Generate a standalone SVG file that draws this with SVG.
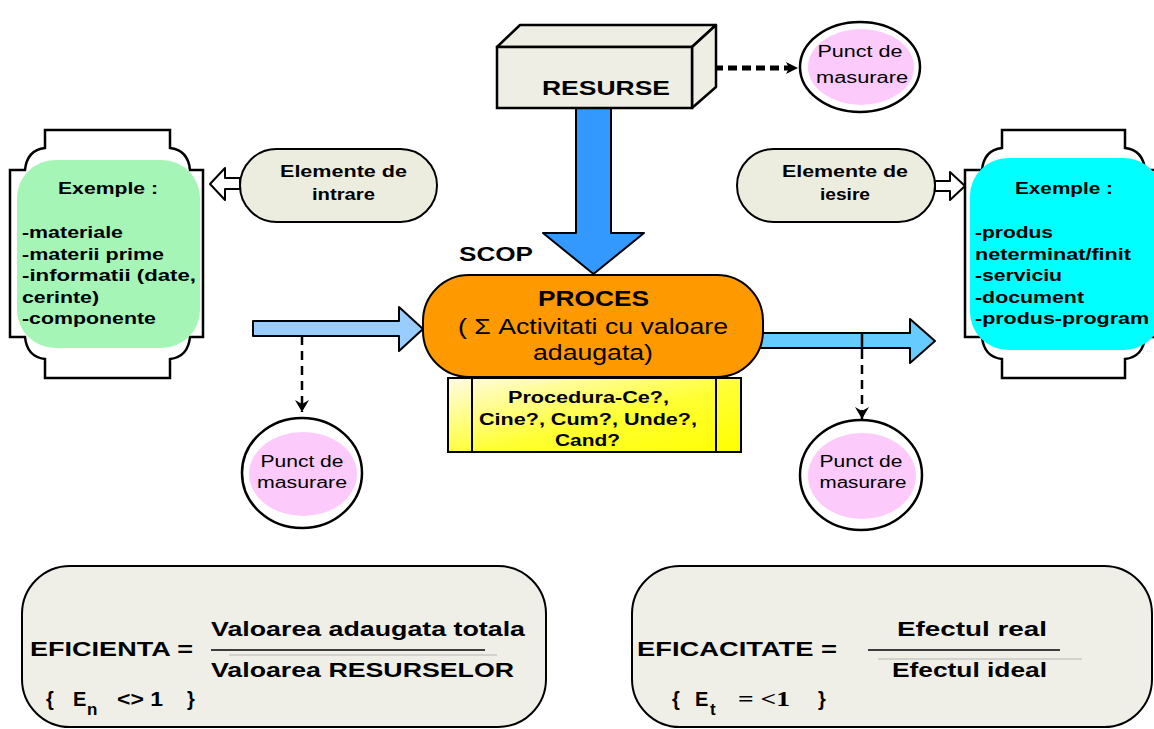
<svg xmlns="http://www.w3.org/2000/svg" width="1154" height="729" viewBox="0 0 1154 729">
  <style>
    .b { font-family: "Liberation Sans", Arial, sans-serif; font-weight: bold; fill: #000; }
    .r { font-family: "Liberation Sans", Arial, sans-serif; font-weight: normal; fill: #000; }
    .s { font-family: "Liberation Serif", "Times New Roman", serif; font-weight: bold; fill: #000; }
    .ol { stroke: #000; stroke-width: 2; stroke-linejoin: round; }
    .frame { fill: #fff; stroke: #000; stroke-width: 2.5; }
    .pill { fill: #ededdf; stroke: #000; stroke-width: 2; }
    .ring { fill: #fff; stroke: #000; stroke-width: 2.5; }
    .pink { fill: #fccbfc; }
    .dash { fill: none; stroke: #000; stroke-width: 2.5; stroke-dasharray: 9 6; }
    .dots { fill: none; stroke: #000; stroke-width: 5; stroke-dasharray: 9 5; }
    .card { fill: #efefe7; stroke: #000; stroke-width: 2; }
  </style>
  <defs>
    <marker id="barb" viewBox="0 0 12 14" refX="12" refY="7" markerWidth="12" markerHeight="14" markerUnits="userSpaceOnUse" orient="auto">
      <path d="M0,0 L12,7 L0,14 L4,7 Z" fill="#000"/>
    </marker>
    <linearGradient id="yel" x1="0" y1="0" x2="1" y2="1">
      <stop offset="0" stop-color="#fffbe6"/>
      <stop offset="0.55" stop-color="#ffff33"/>
      <stop offset="1" stop-color="#ffff00"/>
    </linearGradient>
  </defs>
  <rect width="1154" height="729" fill="#fff"/>

  <!-- connectors -->
  <g id="connectors">
    <polygon class="ol" fill="#3399ff" points="576,108 611,108 611,233 644,233 593.5,274 543,233 576,233"/>
    <polygon class="ol" fill="#99ccff" points="253,321 399,321 399,307 423,329 399,351 399,336 253,336"/>
    <polygon class="ol" fill="#66ccff" points="740,333 910,333 910,319 935,341 910,363 910,348 740,348"/>
    <line x1="862" y1="333" x2="862" y2="350" stroke="#000" stroke-width="2.5"/>
    <path class="dash" d="M302,336 V412" marker-end="url(#barb)"/>
    <path class="dash" d="M862,350 V419" marker-end="url(#barb)"/>
    <path class="dots" d="M700,68 H790" />
    <path d="M786,62 L798,68 L786,74 L789,68 Z" fill="#000"/>
    <polygon fill="#fff" class="ol" points="240,178 225,178 225,168 210,184 225,200 225,189 240,189"/>
    <polygon fill="#fff" class="ol" points="935,181 950,181 950,172 965,186 950,200 950,191 935,191"/>
  </g>

  <!-- resources block -->
  <g id="resurse">
    <polygon fill="#eeeee4" stroke="#000" stroke-width="2.5" stroke-linejoin="round" points="497,47 520,25 716,25 692,47"/>
    <polygon fill="#eeeee4" stroke="#000" stroke-width="2.5" stroke-linejoin="round" points="692,47 716,25 716,87 692,108"/>
    <rect x="497" y="47" width="195" height="61" fill="#eeeee4" stroke="#000" stroke-width="2.5"/>
    <text class="b" x="542" y="95" font-size="21" textLength="128" lengthAdjust="spacingAndGlyphs">RESURSE</text>
  </g>

  <!-- measuring points -->
  <g id="punct-top">
    <ellipse class="ring" cx="860" cy="67" rx="60" ry="45"/>
    <ellipse class="pink" cx="861" cy="67" rx="53" ry="38"/>
    <text class="r" x="860" y="57" font-size="16" text-anchor="middle" textLength="85" lengthAdjust="spacingAndGlyphs">Punct de</text>
    <text class="r" x="862" y="83" font-size="16" text-anchor="middle" textLength="92" lengthAdjust="spacingAndGlyphs">masurare</text>
  </g>
  <g id="punct-in">
    <ellipse class="ring" cx="302" cy="473" rx="60" ry="55"/>
    <ellipse class="pink" cx="303" cy="474" rx="54" ry="42"/>
    <text class="r" x="302" y="467" font-size="16" text-anchor="middle" textLength="83" lengthAdjust="spacingAndGlyphs">Punct de</text>
    <text class="r" x="302" y="488" font-size="16" text-anchor="middle" textLength="90" lengthAdjust="spacingAndGlyphs">masurare</text>
  </g>
  <g id="punct-out">
    <ellipse class="ring" cx="861" cy="475" rx="61" ry="55"/>
    <ellipse class="pink" cx="862" cy="476" rx="54" ry="43"/>
    <text class="r" x="861" y="467" font-size="16" text-anchor="middle" textLength="83" lengthAdjust="spacingAndGlyphs">Punct de</text>
    <text class="r" x="863" y="488" font-size="16" text-anchor="middle" textLength="87" lengthAdjust="spacingAndGlyphs">masurare</text>
  </g>

  <!-- input examples -->
  <g id="intrari">
    <path class="frame" d="M45,130 H170 V148 Q188,150 190,170 H203 V337 H190 Q188,357 170,359 V378 H45 V359 Q27,357 25,337 H10 V170 H25 Q27,150 45,148 Z"/>
    <rect x="17" y="160" width="183" height="188" rx="38" fill="#a5f5b6"/>
    <text class="b" x="58" y="194" font-size="17" textLength="100" lengthAdjust="spacingAndGlyphs">Exemple :</text>
    <text class="b" x="22" y="238" font-size="17" textLength="101" lengthAdjust="spacingAndGlyphs">-materiale</text>
    <text class="b" x="22" y="259.5" font-size="17" textLength="142" lengthAdjust="spacingAndGlyphs">-materii prime</text>
    <text class="b" x="22" y="281" font-size="17" textLength="174" lengthAdjust="spacingAndGlyphs">-informatii (date,</text>
    <text class="b" x="22" y="302.5" font-size="17" textLength="77" lengthAdjust="spacingAndGlyphs">cerinte)</text>
    <text class="b" x="22" y="324" font-size="17" textLength="134" lengthAdjust="spacingAndGlyphs">-componente</text>
  </g>

  <!-- output examples -->
  <g id="iesiri">
    <path class="frame" d="M1002,130 H1125 V148 Q1143,150 1145,170 H1162 V337 H1145 Q1143,357 1125,359 V378 H1002 V359 Q984,357 982,337 H965 V170 H982 Q984,150 1002,148 Z"/>
    <rect x="970" y="158" width="192" height="192" rx="38" fill="#00ffff"/>
    <text class="b" x="1015" y="194" font-size="17" textLength="98" lengthAdjust="spacingAndGlyphs">Exemple :</text>
    <text class="b" x="975" y="238" font-size="17" textLength="78" lengthAdjust="spacingAndGlyphs">-produs</text>
    <text class="b" x="975" y="259.5" font-size="17" textLength="156" lengthAdjust="spacingAndGlyphs">neterminat/finit</text>
    <text class="b" x="975" y="281" font-size="17" textLength="87" lengthAdjust="spacingAndGlyphs">-serviciu</text>
    <text class="b" x="975" y="302.5" font-size="17" textLength="109" lengthAdjust="spacingAndGlyphs">-document</text>
    <text class="b" x="975" y="324" font-size="17" textLength="174" lengthAdjust="spacingAndGlyphs">-produs-program</text>
  </g>

  <g id="elemente-intrare">
    <rect class="pill" x="240" y="149" width="197" height="73" rx="36.5"/>
    <text class="b" x="280" y="177" font-size="16" textLength="127" lengthAdjust="spacingAndGlyphs">Elemente de</text>
    <text class="b" x="312" y="200" font-size="16" textLength="63" lengthAdjust="spacingAndGlyphs">intrare</text>
  </g>
  <g id="elemente-iesire">
    <rect class="pill" x="737" y="149" width="198" height="73" rx="36.5"/>
    <text class="b" x="782" y="177" font-size="16" textLength="126" lengthAdjust="spacingAndGlyphs">Elemente de</text>
    <text class="b" x="820" y="200" font-size="16" textLength="50" lengthAdjust="spacingAndGlyphs">iesire</text>
  </g>

  <text id="scop" class="b" x="459" y="261" font-size="20" textLength="74" lengthAdjust="spacingAndGlyphs">SCOP</text>

  <!-- procedure bar under the process -->
  <g id="procedura">
    <rect x="448" y="378" width="293" height="74" fill="url(#yel)" stroke="#000" stroke-width="2"/>
    <line x1="472" y1="378" x2="472" y2="452" stroke="#000" stroke-width="2"/>
    <line x1="716" y1="378" x2="716" y2="452" stroke="#000" stroke-width="2"/>
    <text class="b" x="588.5" y="403" font-size="16" text-anchor="middle" textLength="161" lengthAdjust="spacingAndGlyphs">Procedura-Ce?,</text>
    <text class="b" x="588" y="425" font-size="16" text-anchor="middle" textLength="218" lengthAdjust="spacingAndGlyphs">Cine?, Cum?, Unde?,</text>
    <text class="b" x="587.5" y="446" font-size="16" text-anchor="middle" textLength="65" lengthAdjust="spacingAndGlyphs">Cand?</text>
  </g>

  <g id="proces">
    <rect x="423" y="275" width="340" height="102" rx="46" fill="#ff9900" stroke="#000" stroke-width="2"/>
    <text class="b" x="593.5" y="306" font-size="22" text-anchor="middle" textLength="111" lengthAdjust="spacingAndGlyphs">PROCES</text>
    <text class="r" x="593" y="334" font-size="22" text-anchor="middle" textLength="270" lengthAdjust="spacingAndGlyphs">( Σ Activitati cu valoare</text>
    <text class="r" x="593" y="360" font-size="22" text-anchor="middle" textLength="120" lengthAdjust="spacingAndGlyphs">adaugata)</text>
  </g>

  <!-- efficiency -->
  <g id="eficienta">
    <rect class="card" x="22" y="566" width="524" height="161" rx="48"/>
    <text class="b" x="30" y="656" font-size="20" textLength="163" lengthAdjust="spacingAndGlyphs">EFICIENTA =</text>
    <text class="b" x="211" y="636" font-size="20" textLength="314" lengthAdjust="spacingAndGlyphs">Valoarea adaugata totala</text>
    <line x1="229" y1="655" x2="497" y2="655" stroke="#b5b5b5" stroke-width="1.2"/>
    <line x1="211" y1="650" x2="485" y2="650" stroke="#000" stroke-width="1.6"/>
    <text class="b" x="211" y="677" font-size="20" textLength="303" lengthAdjust="spacingAndGlyphs">Valoarea RESURSELOR</text>
    <text class="b" x="46" y="706" font-size="20">{</text>
    <text class="b" x="73" y="706" font-size="20">E</text>
    <text class="b" x="87" y="715" font-size="17">n</text>
    <text class="b" x="117" y="706" font-size="20" textLength="46" lengthAdjust="spacingAndGlyphs">&lt;&gt; 1</text>
    <text class="b" x="187" y="706" font-size="20">}</text>
  </g>

  <!-- effectiveness -->
  <g id="eficacitate">
    <rect class="card" x="632" y="566" width="520" height="161" rx="48"/>
    <text class="b" x="637" y="656" font-size="20" textLength="200" lengthAdjust="spacingAndGlyphs">EFICACITATE =</text>
    <text class="b" x="897" y="636" font-size="20" textLength="150" lengthAdjust="spacingAndGlyphs">Efectul real</text>
    <line x1="878" y1="659" x2="1082" y2="659" stroke="#b5b5b5" stroke-width="1.2"/>
    <line x1="868" y1="650" x2="1060" y2="650" stroke="#000" stroke-width="1.6"/>
    <text class="b" x="892" y="677" font-size="20" textLength="155" lengthAdjust="spacingAndGlyphs">Efectul ideal</text>
    <text class="b" x="672" y="706" font-size="20">{</text>
    <text class="b" x="695" y="706" font-size="20">E</text>
    <text class="b" x="710" y="715" font-size="17">t</text>
    <text class="s" x="738" y="706" font-size="20" textLength="52" lengthAdjust="spacingAndGlyphs">= &lt;1</text>
    <text class="b" x="818" y="706" font-size="20">}</text>
  </g>
</svg>
